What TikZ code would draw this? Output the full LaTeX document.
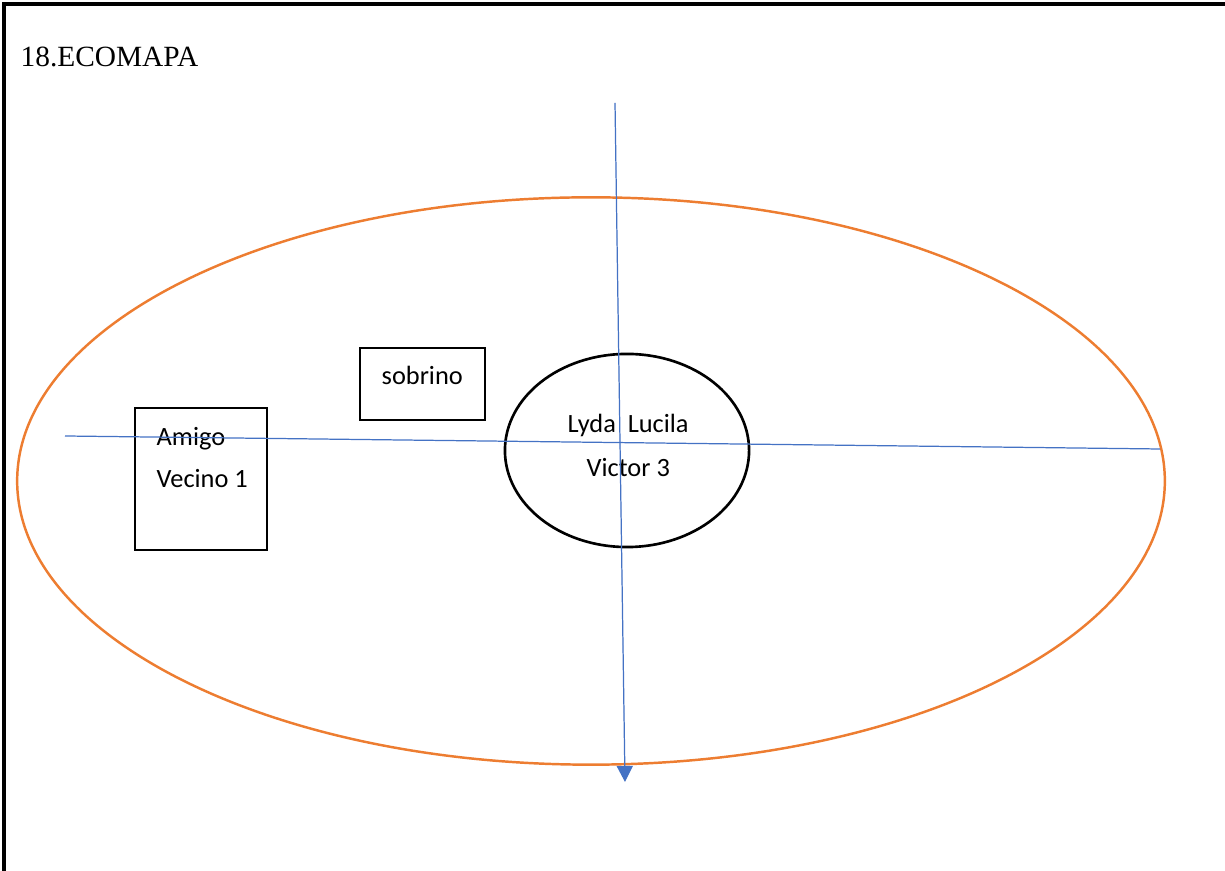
\documentclass[tikz,border=0pt]{standalone}
\usepackage{fontspec}
\setmainfont{Liberation Serif}
\newfontfamily\calibri{Carlito}
\usetikzlibrary{arrows.meta,shapes.geometric}

\definecolor{ecoorange}{HTML}{ED7D31}
\definecolor{ecoblue}{HTML}{4472C4}

\tikzset{
	txt/.style={anchor=base west,inner sep=0pt,font=\calibri\fontsize{7.5}{9}\selectfont},
	caja/.style={draw,line width=0.4pt,inner sep=0pt},
	eje/.style={draw=ecoblue,line width=0.35pt}
}

\begin{document}
\begin{tikzpicture}[x=0.01cm,y=-0.01cm]
	\useasboundingbox (0,0) rectangle (1225,871);
	% frame
	\coordinate (TL) at (4,4);
	\coordinate (TR) at (1225,4);
	\coordinate (BL) at (4,871);
	\draw[line width=1pt] (TR) -- (TL) -- (BL);
	\node[anchor=base west,inner sep=0pt,font=\fontsize{8.35}{10}\selectfont] (title) at (20,67) {18.ECOMAPA};
	% ellipses
	\node[draw=ecoorange,line width=0.7pt,ellipse,inner sep=0pt,minimum width=11.47cm,minimum height=5.67cm] (E) at (591,481) {};
	\node[draw,line width=0.75pt,ellipse,inner sep=0pt,minimum width=2.44cm,minimum height=1.93cm] (F) at (627,450.5) {};
	\node[txt] (F1) at (567,432.5) {Lyda\ \ Lucila};
	\node[txt] (F2) at (586,476.5) {Victor 3};
	% boxes
	\node[caja,minimum width=1.25cm,minimum height=0.72cm] (S) at (422.5,384) {};
	\node[txt] (S1) at (381,385) {sobrino};
	\node[caja,minimum width=1.32cm,minimum height=1.42cm] (A) at (201,479) {};
	\node[txt] (A1) at (156,445.5) {Amigo};
	\node[txt] (A2) at (156,488) {Vecino 1};
	% axes
	\coordinate (H1) at (65,436);
	\coordinate (H2) at (1160,449);
	\coordinate (V1) at (615,103);
	\coordinate (V2) at (625,782);
	\draw[eje] (H1) -- (H2);
	\draw[eje,-{Triangle[length=0.16cm,width=0.16cm]},fill=ecoblue] (V1) -- (V2);
\end{tikzpicture}
\end{document}
